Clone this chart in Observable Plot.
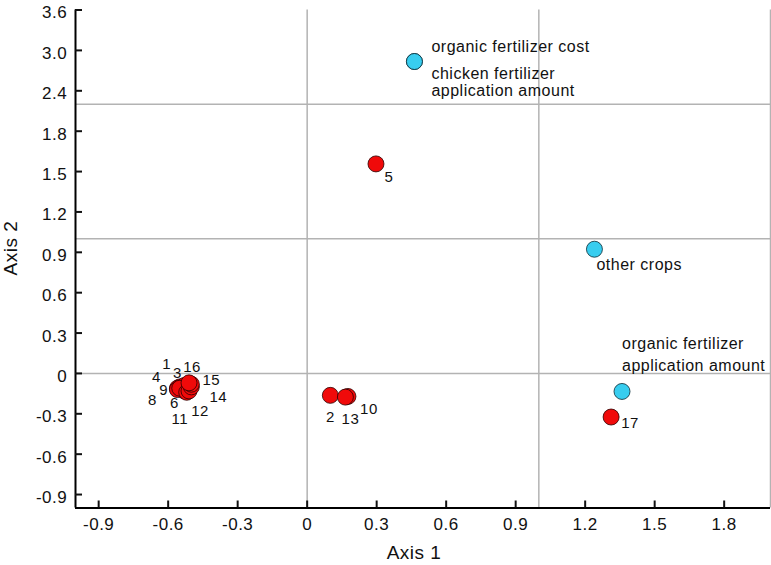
<!DOCTYPE html>
<html>
<head>
<meta charset="utf-8">
<script src="https://cdn.jsdelivr.net/npm/d3@7"></script>
<script src="https://cdn.jsdelivr.net/npm/@observablehq/plot@0.6"></script>
<style>
  body { margin: 0; background: #fff; }
  #chart svg { display: block; }
  #chart svg text { letter-spacing: 0.5px; }
</style>
</head>
<body>
<div id="chart"></div>
<script>
// ---- data ----
const siteLabels = ["1","2","3","4","5","6","8","9","10","11","12","13","14","15","16","17"];
const siteX = [-0.55, 0.100, -0.53, -0.56, 0.297, -0.53, -0.56, -0.55, 0.176, -0.52, -0.51, 0.165, -0.50, -0.50, -0.51, 1.312];
const siteY = [-0.10, -0.163, -0.09, -0.11, 1.557, -0.13, -0.12, -0.11, -0.171, -0.14, -0.13, -0.176, -0.10, -0.08, -0.07, -0.324];

const varLabels = ["organic fertilizer cost", "chicken fertilizer\napplication amount", "other crops", "organic fertilizer\napplication amount"];
const varX = [0.463, 0.463, 1.240, 1.359];
const varY = [2.835, 2.835, 0.923, -0.134];

const xTicks = [-0.9, -0.6, -0.3, 0, 0.3, 0.6, 0.9, 1.2, 1.5, 1.8];
const yTicks = [-0.9, -0.6, -0.3, 0, 0.3, 0.6, 0.9, 1.2, 1.5, 1.8, 2.4, 3.0, 3.6];
const refX = [0, 1, 2];
const refY = [0, 1, 2.2];

// ---- layout (label offsets in pixels) ----
const siteLabelOffset = {
  "1": [-13, -23], "2": [0, 22], "3": [-7, -12], "4": [-21, -11], "5": [13, 13],
  "6": [-10, 12], "8": [-25, 11], "9": [-16, 2], "10": [21, 13], "11": [-7, 27],
  "12": [11, 20], "13": [5, 22], "14": [27, 10], "15": [20, -4], "16": [3, -16], "17": [19, 6]
};
const varLabelStyle = [
  {dx: 17, dy: -15, lineAnchor: "middle", lineHeight: 1},
  {dx: 17, dy: 4.8, lineAnchor: "top", lineHeight: 1.1},
  {dx: 2, dy: 15.6, lineAnchor: "middle", lineHeight: 1},
  {dx: 0, dy: -58.5, lineAnchor: "top", lineHeight: 1.38}
];

const fmt = d => d === 0 ? "0" : d.toFixed(1);
const idxSites = siteLabels.map((_, i) => i);
const idxVars = varLabels.map((_, i) => i);

const siteTextMarks = idxSites.map(i => Plot.text([i], {
  x: j => siteX[j], y: j => siteY[j], text: j => siteLabels[j],
  dx: siteLabelOffset[siteLabels[i]][0], dy: siteLabelOffset[siteLabels[i]][1],
  fontSize: 15, fill: "#111", textAnchor: "middle", lineAnchor: "middle"
}));
const varTextMarks = idxVars.map(i => Plot.text([i], {
  x: j => varX[j], y: j => varY[j], text: j => varLabels[j],
  dx: varLabelStyle[i].dx, dy: varLabelStyle[i].dy,
  lineAnchor: varLabelStyle[i].lineAnchor, lineHeight: varLabelStyle[i].lineHeight,
  fontSize: 16, fill: "#111", textAnchor: "start"
}));

const chart = Plot.plot({
  width: 771,
  height: 565,
  marginLeft: 75,
  marginRight: 1,
  marginTop: 9.5,
  marginBottom: 57.5,
  style: {fontFamily: "'Liberation Sans', Arial, Helvetica, sans-serif", background: "#fff", color: "#111", fontSize: "17px"},
  x: {type: "linear", domain: [-1, 2]},
  y: {type: "linear", domain: [-1, 1.8, 3.6], range: [507.5, 130.7, 9.5]},
  marks: [
    Plot.ruleY(refY, {stroke: "#b3b3b3", strokeWidth: 1.5}),
    Plot.ruleX(refX, {stroke: "#b3b3b3", strokeWidth: 1.5}),
    Plot.ruleX([-1], {stroke: "#000", strokeWidth: 2}),
    Plot.ruleY([-1], {stroke: "#000", strokeWidth: 2}),
    Plot.axisX(xTicks, {tickSize: -7, tickFormat: () => "", strokeWidth: 2, label: null}),
    Plot.axisX(xTicks, {tickSize: 0, tickPadding: 10, tickFormat: fmt, fontSize: 17, label: null}),
    Plot.axisY(yTicks, {tickSize: -7, tickFormat: () => "", strokeWidth: 2, label: null}),
    Plot.axisY(yTicks, {tickSize: 0, tickPadding: 8.3, dy: 3, tickFormat: fmt, fontSize: 17, label: null}),
    Plot.text(["Axis 1"], {frameAnchor: "bottom", dx: -9, dy: 50.5, lineAnchor: "bottom", textAnchor: "middle", fontSize: 19, fill: "#111"}),
    Plot.text(["Axis 2"], {frameAnchor: "left", dx: -59, dy: -11, rotate: -90, lineAnchor: "bottom", textAnchor: "middle", fontSize: 19, fill: "#111"}),
    Plot.dot(idxSites, {x: i => siteX[i], y: i => siteY[i], r: 8, fill: "#f00a0a", stroke: "#2a0000", strokeWidth: 0.8}),
    Plot.dot(idxVars, {x: i => varX[i], y: i => varY[i], r: 8, fill: "#38cdef", stroke: "#0a2a33", strokeWidth: 0.8}),
    ...siteTextMarks,
    ...varTextMarks
  ]
});
document.getElementById("chart").append(chart);
</script>
</body>
</html>
